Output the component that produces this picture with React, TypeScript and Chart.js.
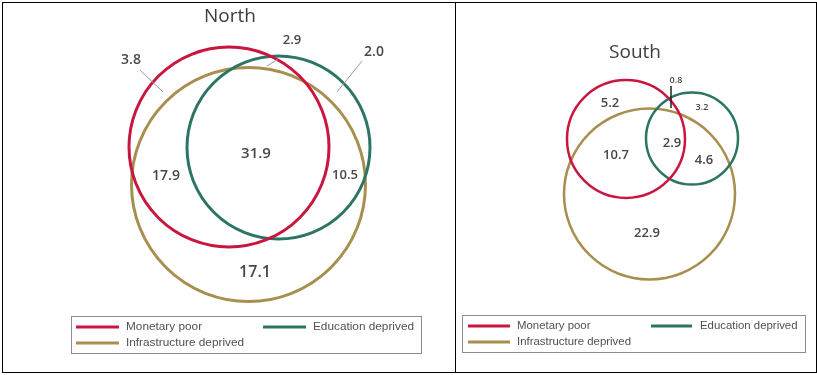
import React, { useEffect, useRef } from "react";
import { Chart, registerables } from "chart.js";

Chart.register(...registerables);

// ---- shared series ----
const setLabels = ["Monetary poor", "Education deprived", "Infrastructure deprived"];
const setColors = ["#C9163F", "#2C7565", "#A88F50"];

// ---- North panel ----
const northTitle = "North";
const northValues = [3.8, 2.9, 2.0, 31.9, 17.9, 10.5, 17.1];
// circle geometry (diagram units)
const northCircleX = [229, 278.5, 248.5];
const northCircleY = [147, 147.5, 184.5];
const northCircleR = [100, 91.5, 117];
// value label anchors
const northLabelX = [131, 292, 374, 256, 166, 345, 255];
const northLabelY = [60, 40, 52, 154, 176, 175, 272];
const northLabelSize = [14, 13, 14, 15, 14, 13, 16];
// leader lines: from label to region
const northLeaderX1 = [140, 278, 362];
const northLeaderY1 = [70, 59, 61];
const northLeaderX2 = [163, 267, 337];
const northLeaderY2 = [92, 66, 92];

// ---- South panel ----
const southTitle = "South";
const southValues = [0.8, 5.2, 3.2, 2.9, 10.7, 4.6, 22.9];
const southCircleX = [626, 692, 649.5];
const southCircleY = [139, 138.5, 194];
const southCircleR = [59, 46, 85.5];
const southLabelX = [676, 610, 702, 672, 616, 704, 647];
const southLabelY = [80, 103, 107, 143, 155, 160, 233];
const southLabelSize = [9, 13, 9, 13, 13, 13, 13];
const southLeaderX1 = [671];
const southLeaderY1 = [86];
const southLeaderX2 = [671];
const southLeaderY2 = [108];

type Panel = {
  title: string;
  titleX: number;
  titleY: number;
  values: number[];
  cx: number[];
  cy: number[];
  cr: number[];
  circleWidth: number;
  lx: number[];
  ly: number[];
  ls: number[];
  leaders: { x1: number[]; y1: number[]; x2: number[]; y2: number[]; color: string; width: number };
  xMin: number;
  xMax: number;
  yMin: number;
  yMax: number;
  legend: {
    box: [number, number, number, number];
    rowY: [number, number];
    col: { sx1: number; sx2: number; tx: number }[];
    font: number;
  };
};

const northPanel: Panel = {
  title: northTitle,
  titleX: 230,
  titleY: 17,
  values: northValues,
  cx: northCircleX,
  cy: northCircleY,
  cr: northCircleR,
  circleWidth: 3,
  lx: northLabelX,
  ly: northLabelY,
  ls: northLabelSize,
  leaders: { x1: northLeaderX1, y1: northLeaderY1, x2: northLeaderX2, y2: northLeaderY2, color: "#9a9a9a", width: 1 },
  xMin: 3,
  xMax: 455,
  yMin: 3,
  yMax: 372,
  legend: {
    box: [71, 316, 421, 353],
    rowY: [327, 343],
    col: [
      { sx1: 76, sx2: 119, tx: 126 },
      { sx1: 263, sx2: 306, tx: 313 },
    ],
    font: 11.8,
  },
};

const southPanel: Panel = {
  title: southTitle,
  titleX: 635,
  titleY: 53,
  values: southValues,
  cx: southCircleX,
  cy: southCircleY,
  cr: southCircleR,
  circleWidth: 2.5,
  lx: southLabelX,
  ly: southLabelY,
  ls: southLabelSize,
  leaders: { x1: southLeaderX1, y1: southLeaderY1, x2: southLeaderX2, y2: southLeaderY2, color: "#222222", width: 1.5 },
  xMin: 456,
  xMax: 815,
  yMin: 3,
  yMax: 372,
  legend: {
    box: [462, 315, 805, 352],
    rowY: [326, 342],
    col: [
      { sx1: 468, sx2: 510, tx: 517 },
      { sx1: 651, sx2: 692, tx: 700 },
    ],
    font: 11.4,
  },
};

const vennPlugin = {
  id: "vennDecor",
  afterDatasetsDraw(chart: any, _args: any, opts: any) {
    const p: Panel = opts.panel;
    if (!p) return;
    const { ctx } = chart;
    const sx = chart.scales.x;
    const sy = chart.scales.y;
    const px = (v: number) => sx.getPixelForValue(v);
    const py = (v: number) => sy.getPixelForValue(v);
    ctx.save();
    ctx.textAlign = "center";
    ctx.textBaseline = "middle";
    ctx.fillStyle = "#3d3d3d";
    ctx.font = '19px "Open Sans"';
    ctx.fillText(p.title, px(p.titleX), py(p.titleY));
    p.values.forEach((v, i) => {
      ctx.font = `600 ${p.ls[i]}px "Open Sans"`;
      ctx.fillStyle = "#474747";
      ctx.fillText(v.toFixed(1), px(p.lx[i]), py(p.ly[i]));
    });

    // legend
    const lg = p.legend;
    const bx1 = Math.round(px(lg.box[0])) + 0.5;
    const by1 = Math.round(py(lg.box[1])) + 0.5;
    const bx2 = Math.round(px(lg.box[2])) + 0.5;
    const by2 = Math.round(py(lg.box[3])) + 0.5;
    ctx.strokeStyle = "#8c8c8c";
    ctx.lineWidth = 1;
    ctx.strokeRect(bx1, by1, bx2 - bx1, by2 - by1);
    const circles = chart.data.datasets.filter((d: any) => d.isSet);
    circles.forEach((d: any, i: number) => {
      const row = Math.floor(i / 2);
      const col = i % 2;
      const c = lg.col[col];
      const y = py(lg.rowY[row]);
      ctx.strokeStyle = d.borderColor;
      ctx.lineWidth = 3;
      ctx.beginPath();
      ctx.moveTo(px(c.sx1), y);
      ctx.lineTo(px(c.sx2), y);
      ctx.stroke();
      ctx.fillStyle = "#505050";
      ctx.textAlign = "left";
      ctx.font = `${lg.font}px "Liberation Sans", Arial, sans-serif`;
      ctx.fillText(d.label, px(c.tx), y);
    });
    ctx.restore();
  },
};

function buildConfig(p: Panel): any {
  const circleSets = setLabels.map((label, i) => ({
    type: "scatter",
    label,
    isSet: true,
    data: [{ x: p.cx[i], y: p.cy[i] }],
    borderColor: setColors[i],
    backgroundColor: "rgba(0,0,0,0)",
    pointBorderColor: setColors[i],
    pointBackgroundColor: "rgba(0,0,0,0)",
    pointBorderWidth: p.circleWidth,
    pointRadius: (ctx: any) => {
      const s = ctx.chart.scales.x;
      return Math.abs(s.getPixelForValue(p.cr[i]) - s.getPixelForValue(0));
    },
    clip: false,
  }));
  const leaders = p.leaders.x1.map((_, i) => ({
    type: "scatter",
    label: "leader" + i,
    isSet: false,
    showLine: true,
    data: [
      { x: p.leaders.x1[i], y: p.leaders.y1[i] },
      { x: p.leaders.x2[i], y: p.leaders.y2[i] },
    ],
    borderColor: p.leaders.color,
    borderWidth: p.leaders.width,
    pointRadius: 0,
    clip: false,
  }));
  return {
    type: "scatter",
    data: { datasets: [...leaders, ...circleSets] },
    options: {
      animation: false,
      responsive: false,
      maintainAspectRatio: false,
      events: [],
      layout: { padding: 0 },
      scales: {
        x: { type: "linear", min: p.xMin, max: p.xMax, display: false },
        y: { type: "linear", min: p.yMin, max: p.yMax, reverse: true, display: false },
      },
      plugins: {
        legend: { display: false },
        title: { display: false },
        tooltip: { enabled: false },
        vennDecor: { panel: p },
      },
    },
    plugins: [vennPlugin],
  };
}

function VennPanel({ panel, left, width }: { panel: Panel; left: number; width: number }) {
  const ref = useRef<HTMLCanvasElement | null>(null);
  useEffect(() => {
    if (!ref.current) return;
    const chart = new Chart(ref.current, buildConfig(panel));
    return () => chart.destroy();
  }, [panel]);
  return (
    <canvas
      ref={ref}
      width={width}
      height={369}
      style={{ position: "absolute", left, top: 3, width, height: 369, display: "block" }}
    />
  );
}

export default function App() {
  return (
    <div style={{ position: "absolute", left: 0, top: 0, width: 817, height: 375, background: "#ffffff" }}>
      <div
        style={{
          position: "absolute",
          left: 2,
          top: 2,
          width: 452,
          height: 369,
          border: "1px solid #000",
        }}
      />
      <div
        style={{
          position: "absolute",
          left: 455,
          top: 2,
          width: 360,
          height: 369,
          border: "1px solid #000",
        }}
      />
      <VennPanel panel={northPanel} left={3} width={452} />
      <VennPanel panel={southPanel} left={456} width={359} />
    </div>
  );
}
